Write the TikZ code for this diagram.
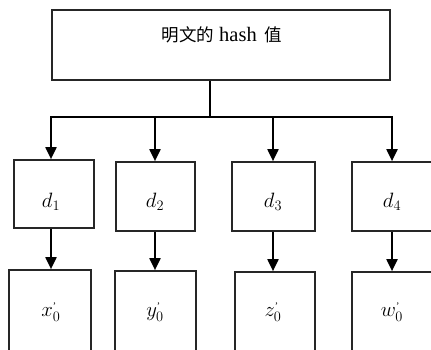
\documentclass[tikz,border=0pt]{standalone}
\usepackage{fontspec}
\setmainfont{Liberation Serif}
\newfontfamily\cjk{Noto Sans CJK SC}
\usetikzlibrary{arrows.meta}
\tikzset{
  box/.style={draw=black!85, line width=1.7pt, inner sep=0pt},
  arr/.style={line width=2pt, -{Triangle[length=12pt,width=11pt]}},
  lbl/.style={inner sep=0pt, font=\fontsize{22}{24}\selectfont},
}
\newcommand{\pr}{^{\mbox{\fontsize{10}{10}\selectfont '}}}
\begin{document}
\begin{tikzpicture}[x=1pt,y=-1pt]
\useasboundingbox (0,0) rectangle (431,350);
\clip (0,0) rectangle (431,350);
% top box
\node[box, minimum width=338pt, minimum height=70pt] (top) at (221,45) {};
\node[inner sep=0pt] (toptext) at (222,35) {{\cjk\fontsize{17.5}{19}\selectfont 明文的}\hspace{5pt}{\fontsize{20.5}{22}\selectfont hash}\hspace{8pt}{\cjk\fontsize{17.5}{19}\selectfont 值}};
% d boxes
\node[box, minimum width=80pt, minimum height=68pt] (d1) at (54,194) {};
\node[box, minimum width=79pt, minimum height=69pt] (d2) at (155.5,196.5) {};
\node[box, minimum width=83pt, minimum height=69pt] (d3) at (273.5,196.5) {};
\node[box, minimum width=80pt, minimum height=69pt] (d4) at (392,196.5) {};
\node[lbl] (l1) at (51,202) {$d_1$};
\node[lbl] (l2) at (155,202) {$d_2$};
\node[lbl] (l3) at (273,202) {$d_3$};
\node[lbl] (l4) at (392,202) {$d_4$};
% bottom boxes
\node[box, minimum width=82pt, minimum height=110pt] (x1) at (50,325) {};
\node[box, minimum width=81pt, minimum height=110pt] (x2) at (155.5,326) {};
\node[box, minimum width=80pt, minimum height=110pt] (x3) at (275,327) {};
\node[box, minimum width=80pt, minimum height=110pt] (x4) at (392,327) {};
\node[lbl] (m1) at (51,312) {$x_0\pr$};
\node[lbl] (m2) at (155,312) {$y_0\pr$};
\node[lbl] (m3) at (273,312) {$z_0\pr$};
\node[lbl] (m4) at (392,312) {$w_0\pr$};
% connectors
\coordinate (bus) at (210,117);
\coordinate (b1) at (51,117);
\coordinate (b2) at (155,117);
\coordinate (b3) at (273,117);
\coordinate (b4) at (392,117);
\draw[line width=2pt] (top.south -| bus) -- (bus);
\draw[line width=2pt] ([xshift=-1pt]b1) -- ([xshift=1pt]b4);
\draw[arr] (b1) -- (b1 |- d1.north);
\draw[arr] (b2) -- (b2 |- d2.north);
\draw[arr] (b3) -- (b3 |- d3.north);
\draw[arr] (b4) -- (b4 |- d4.north);
\draw[arr] (d1.south -| b1) -- (b1 |- x1.north);
\draw[arr] (d2.south -| b2) -- (b2 |- x2.north);
\draw[arr] (d3.south -| b3) -- (b3 |- x3.north);
\draw[arr] (d4.south -| b4) -- (b4 |- x4.north);
\end{tikzpicture}
\end{document}
